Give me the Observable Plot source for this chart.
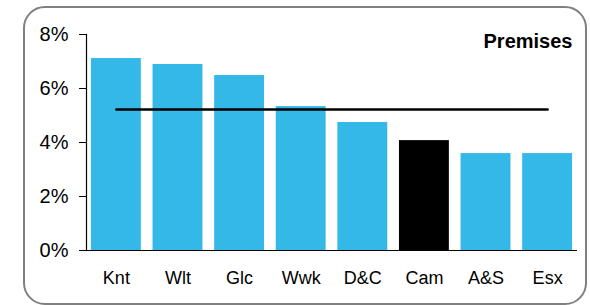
<!DOCTYPE html>
<html>
<head>
<meta charset="utf-8">
<script src="https://cdn.jsdelivr.net/npm/d3@7"></script>
<script src="https://cdn.jsdelivr.net/npm/@observablehq/plot@0.6"></script>
<style>
  html, body { margin: 0; padding: 0; background: #fff; }
  #wrap { position: relative; width: 590px; height: 305px; overflow: hidden; font-family: "Liberation Sans", Arial, sans-serif; }
  #border { position: absolute; left: 23px; top: 6px; width: 560px; height: 295px; border: 2.5px solid #808080; border-radius: 22px; }
  #chart { position: absolute; left: 0; top: 0; }
</style>
</head>
<body>
<div id="wrap"><div id="border"></div><div id="chart"></div></div>
<script>
const categories = ["Knt", "Wlt", "Glc", "Wwk", "D&C", "Cam", "A&S", "Esx"];
const values = [7.11, 6.89, 6.48, 5.33, 4.74, 4.07, 3.59, 3.59];
const highlight = ["Cam"];
const average = 5.22;
const yTicks = [0, 2, 4, 6, 8];
const title = "Premises";

const data = categories.map((c, i) => ({cat: c, v: values[i] / 100, hl: highlight.includes(c)}));
const avgData = categories.map(c => ({cat: c, v: average / 100}));

const chart = Plot.plot({
  width: 590,
  height: 305,
  marginLeft: 86,
  marginRight: 13,
  marginTop: 34,
  marginBottom: 55,
  style: {fontFamily: "'Liberation Sans', Arial, sans-serif", background: "transparent", color: "#000"},
  x: {domain: categories, paddingInner: 0.19, paddingOuter: 0.08, round: false},
  y: {domain: [0, 0.08]},
  marks: [
    Plot.barY(data, {x: "cat", y: "v", fill: d => d.hl ? "#000000" : "#33b8e8"}),
    Plot.lineY(avgData, {x: "cat", y: "v", stroke: "#000", strokeWidth: 2.5}),
    Plot.ruleY([0], {stroke: "#000", strokeWidth: 1.2}),
    Plot.frame({anchor: "left", stroke: "#000", strokeWidth: 1.2}),
    Plot.axisY({ticks: yTicks.map(t => t / 100), tickFormat: d => Math.round(d * 100) + "%", tickSize: 7, tickPadding: 11, fontSize: 20, label: null, stroke: "#000", strokeOpacity: 1}),
    Plot.axisX({tickSize: 0, tickPadding: 21, fontSize: 18, label: null}),
    Plot.text([title], {frameAnchor: "top-right", dx: -5, dy: 13, lineAnchor: "bottom", fontSize: 20, fontWeight: "bold", fill: "#000"})
  ]
});
document.getElementById("chart").appendChild(chart);
</script>
</body>
</html>
